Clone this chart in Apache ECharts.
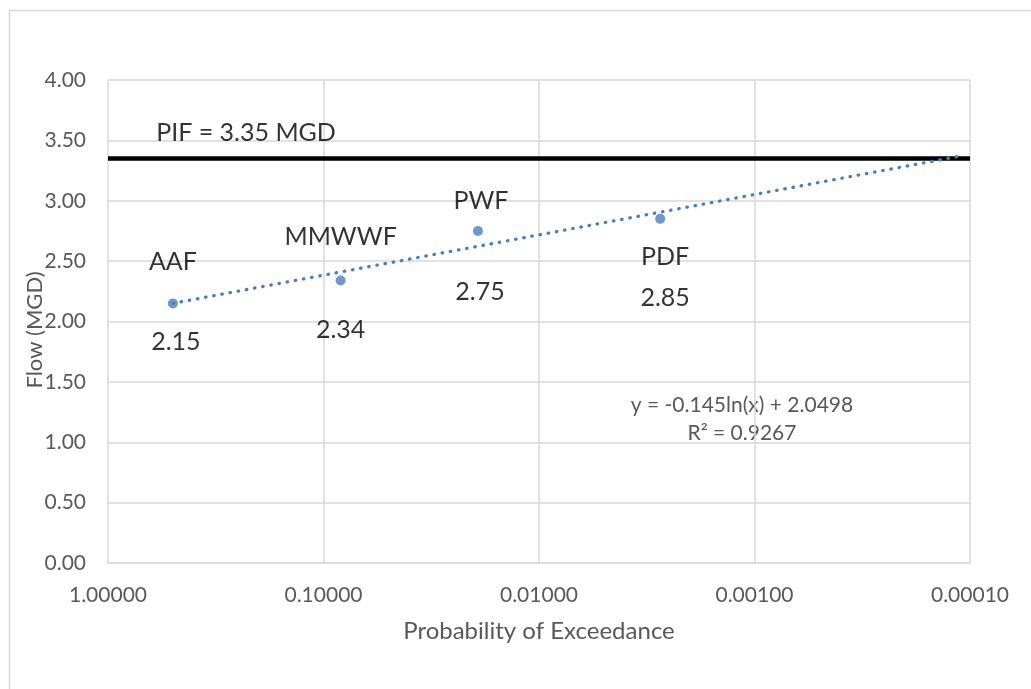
<!DOCTYPE html>
<html>
<head>
<meta charset="utf-8">
<script src="https://cdn.jsdelivr.net/npm/echarts@6/dist/echarts.min.js"></script>
<style>
  html, body { margin: 0; padding: 0; background: #fff; }
  #chart { width: 1031px; height: 689px; }
</style>
</head>
<body>
<div id="chart"></div>
<script>
// Flow events and their annual probability of exceedance
const flowNames = ['AAF', 'MMWWF', 'PWF', 'PDF'];
const exceedProb = [0.5, 0.0833, 0.0192, 0.00274];
const flowMGD = [2.15, 2.34, 2.75, 2.85];

// Peak instantaneous flow reference level
const pifFlow = 3.35;
const pifText = 'PIF = 3.35 MGD';

// Logarithmic trendline fitted to the flow events
const trendSlope = -0.145;
const trendIntercept = 2.0498;
const trendRSquared = 0.9267;
const trendSpan = [0.5, 0.00011];

// Axis ranges
const probRange = [0.0001, 1];
const flowRange = [0, 4];
const flowStep = 0.5;

// Label placement around each point (pixels)
const nameOffsets = [[0, -41], [0, -44], [3, -30], [5, 38]];
const valueOffsets = [[3, 39], [0, 49], [2, 61], [5, 79]];

const FONT = 'Lato, "Open Sans", sans-serif';
const GREY_TEXT = '#595959';
const GRID = '#d9d9d9';
const BLUE = '#4a7ebb';

const trendData = trendSpan.map(p => [p, trendSlope * Math.log(p) + trendIntercept]);

const chart = echarts.init(document.getElementById('chart'), null, { renderer: 'canvas' });

chart.setOption({
  animation: false,
  backgroundColor: '#fff',
  grid: { left: 108, right: 61, top: 80, bottom: 126, containLabel: false },
  xAxis: {
    type: 'log',
    logBase: 10,
    inverse: true,
    min: probRange[0],
    max: probRange[1],
    name: 'Probability of Exceedance',
    nameLocation: 'middle',
    nameGap: 56,
    nameMoveOverlap: false,
    nameTextStyle: { color: GREY_TEXT, fontSize: 24, fontFamily: FONT },
    axisLine: { show: true, lineStyle: { color: GRID, width: 1.5 } },
    axisTick: { show: false },
    axisLabel: {
      color: GREY_TEXT, fontSize: 21, fontFamily: FONT, margin: 22,
      formatter: v => Number(v).toFixed(5)
    },
    splitLine: { show: true, lineStyle: { color: GRID, width: 1.5 } },
    minorSplitLine: { show: false }
  },
  yAxis: {
    type: 'value',
    min: flowRange[0],
    max: flowRange[1],
    interval: flowStep,
    name: 'Flow (MGD)',
    nameLocation: 'middle',
    nameGap: 62,
    nameMoveOverlap: false,
    nameTextStyle: { color: GREY_TEXT, fontSize: 22, fontFamily: FONT, padding: [0, 17, 0, 0] },
    axisLine: { show: false },
    axisTick: { show: false },
    axisLabel: {
      color: GREY_TEXT, fontSize: 21, fontFamily: FONT, margin: 22,
      formatter: v => v.toFixed(2)
    },
    splitLine: { show: true, lineStyle: { color: GRID, width: 1.5 } }
  },
  series: [
    {
      name: 'PIF',
      type: 'line',
      data: [[probRange[1], pifFlow], [probRange[0], pifFlow]],
      symbol: 'none',
      lineStyle: { color: '#000', width: 4.5 },
      z: 3,
      silent: true
    },
    {
      name: 'Trend',
      type: 'line',
      data: trendData,
      symbol: 'none',
      lineStyle: { color: BLUE, width: 3.3, type: [0.5, 7.8], cap: 'round' },
      z: 4,
      silent: true
    },
    {
      name: 'Flow',
      type: 'scatter',
      symbol: 'circle',
      symbolSize: 10,
      itemStyle: { color: BLUE },
      z: 5,
      data: exceedProb.map((p, i) => ({
        name: flowNames[i],
        value: [p, flowMGD[i]],
        label: { offset: nameOffsets[i] }
      })),
      label: {
        show: true, position: 'inside', formatter: '{b}',
        color: '#000', fontSize: 25, fontFamily: FONT
      }
    },
    {
      name: 'Flow value',
      type: 'scatter',
      symbolSize: 0,
      z: 5,
      silent: true,
      data: exceedProb.map((p, i) => ({
        value: [p, flowMGD[i]],
        label: { offset: valueOffsets[i] }
      })),
      label: {
        show: true, position: 'inside',
        formatter: pt => pt.value[1].toFixed(2),
        color: '#000', fontSize: 25, fontFamily: FONT
      }
    },
    {
      name: 'PIF label',
      type: 'scatter',
      symbolSize: 0,
      z: 5,
      silent: true,
      data: [{ value: [probRange[1], pifFlow], label: { offset: [138, -26] } }],
      label: {
        show: true, position: 'inside', formatter: pifText,
        color: '#000', fontSize: 25, fontFamily: FONT
      }
    }
  ],
  graphic: [
    {
      type: 'rect', silent: true, z: -1,
      shape: { x: 9.5, y: 10.5, width: 1200, height: 900 },
      style: { fill: 'none', stroke: GRID, lineWidth: 1.5 }
    },
    {
      type: 'text', silent: true, x: 742, y: 405,
      style: {
        text: 'y = ' + trendSlope + 'ln(x) + ' + trendIntercept,
        textAlign: 'center', textVerticalAlign: 'middle',
        fill: GREY_TEXT, font: '21px ' + FONT
      }
    },
    {
      type: 'text', silent: true, x: 742, y: 433,
      style: {
        text: 'R² = ' + trendRSquared,
        textAlign: 'center', textVerticalAlign: 'middle',
        fill: GREY_TEXT, font: '21px ' + FONT
      }
    }
  ]
});
</script>
</body>
</html>
